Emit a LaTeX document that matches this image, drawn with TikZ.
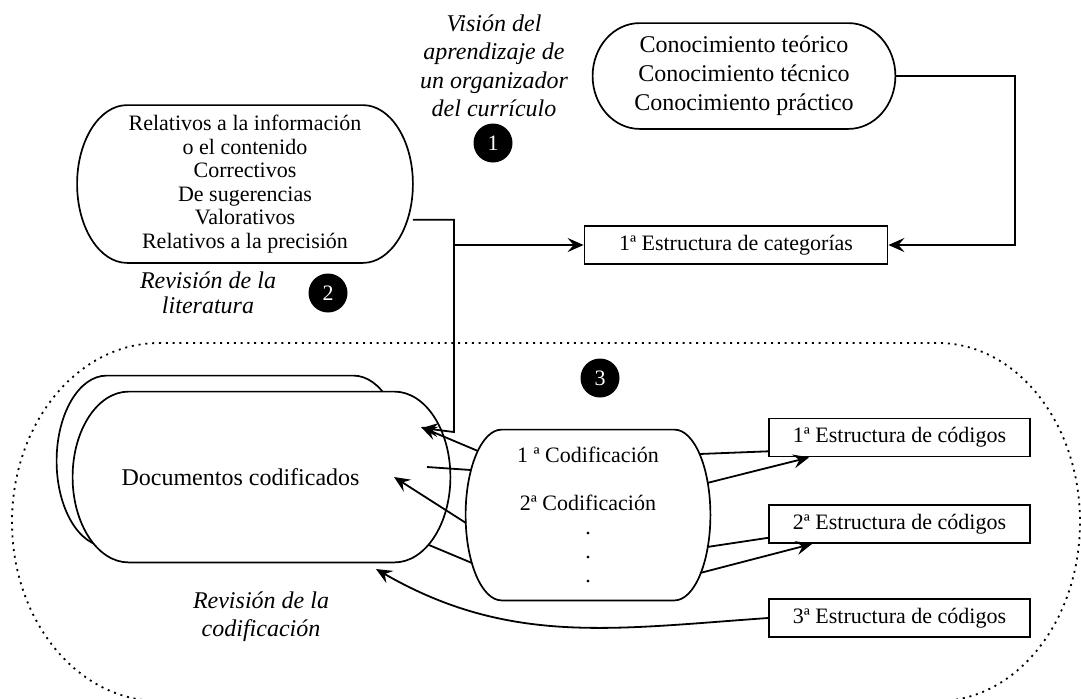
\documentclass[tikz,border=0pt]{standalone}
\usepackage{fontspec}
\setmainfont{Liberation Serif}
\usetikzlibrary{arrows.meta,calc,backgrounds}

\tikzset{
  bubble/.style={inner sep=0pt, align=center},
  box/.style={draw, line width=0.9pt, minimum height=19pt, inner sep=2pt, font=\fontsize{11}{13}\selectfont},
  num/.style={circle, fill=black, text=white, minimum size=19.5pt, inner sep=0pt, font=\fontsize{11}{13}\selectfont},
  lbl/.style={align=center, inner sep=0pt, font=\fontsize{12}{14.25}\selectfont\itshape},
  arr/.style={-{Stealth[length=8pt,width=7pt,inset=3pt]}, line width=0.9pt},
  con/.style={line width=0.9pt},
  dotline/.style={line width=0.9pt, dash pattern=on 1pt off 2.4pt},
}

% outline with elliptic ends round a node
\newcommand\bubbleedge[3][]{%
  \draw[line width=0.85pt,#1] let \p1=(#2.north east), \p2=(#2.south west) in
    (\x2+#3,\y1) -- (\x1-#3,\y1) arc[start angle=90,end angle=-90,x radius=#3,y radius={(\y1-\y2)/2}]
    -- (\x2+#3,\y2) arc[start angle=270,end angle=90,x radius=#3,y radius={(\y1-\y2)/2}] -- cycle;}

\begin{document}
\begin{tikzpicture}[x=0.5pt,y=-0.5pt]
\useasboundingbox (0,0) rectangle (1081,698);

\node[lbl] (vis) at (494,66) {Visión del\\aprendizaje de\\un organizador\\del currículo};
\node[num] (n1) at (493,143) {1};
\node[bubble, minimum width=151pt, minimum height=52.5pt, font=\fontsize{12}{14.5}\selectfont] (know) at (744,76)
  {Conocimiento teórico\\Conocimiento técnico\\Conocimiento práctico};
\node[bubble, minimum width=167.5pt, minimum height=78.5pt, font=\fontsize{11}{11.75}\selectfont] (lit) at (245,184)
  {Relativos a la información\\o el contenido\\Correctivos\\De sugerencias\\Valorativos\\Relativos a la precisión};
\node[box, minimum width=151.5pt] (cat) at (736,245) {1ª Estructura de categorías};
\node[lbl, font=\fontsize{12}{12.5}\selectfont\itshape] (revlit) at (208,293) {Revisión de la\\literatura};
\node[num] (n2) at (328,293) {2};

\draw[dotline] (159,343) -- (938,343) arc[start angle=90,end angle=-90,x radius=71pt,y radius=89.5pt]
  -- (159,701) arc[start angle=270,end angle=90,x radius=73.5pt,y radius=89.5pt] -- cycle;
\node[num] (n3) at (600,378) {3};

\node[bubble, minimum width=173pt, minimum height=85pt] (docsback) at (230,461) {};
\node[bubble, minimum width=188.5pt, minimum height=85pt, font=\fontsize{12}{14}\selectfont] (docs) at (261.5,477)
  {\hspace*{-21pt}Documentos codificados};
\node[bubble, minimum width=122pt, minimum height=85pt, font=\fontsize{11}{12}\selectfont] (code) at (588,515)
  {1 ª Codificación\\[12pt]2ª Codificación\\.\\.\\.};
\node[box, minimum width=130.5pt] (s1) at (899.5,437.5) {1ª Estructura de códigos};
\node[box, minimum width=130.5pt] (s2) at (899.5,524) {2ª Estructura de códigos};
\node[box, minimum width=130.5pt] (s3) at (899.5,618) {3ª Estructura de códigos};
\node[lbl, font=\fontsize{12}{14}\selectfont\itshape] (revcod) at (261,617) {Revisión de la\\codificación};

\bubbleedge{know}{23.5pt}
\bubbleedge{lit}{25pt}
\bubbleedge{code}{18pt}
\begin{scope}[on background layer]
\bubbleedge[fill=white]{docsback}{25pt}
\bubbleedge[fill=white]{docs}{28pt}
\end{scope}

\coordinate (kc) at (1015,245);
\coordinate (drop) at (454,432);
\coordinate (da) at (422,428);
\draw[arr] (know.east) -| (kc) -- (cat.east);
\draw[arr] (lit.-12) -| (drop) -- (da);
\draw[arr] (drop |- cat) -- (cat.west);

\coordinate (c1) at (478,451);
\coordinate (c2) at (471,470);
\coordinate (c3) at (466,523);
\coordinate (c4) at (472,563);
\coordinate (d1) at (421,427);
\coordinate (d2) at (427,467);
\coordinate (d3) at (394,477);
\coordinate (d4) at (429,545);
\coordinate (d5) at (376,569);
\draw[arr] (c1) -- (d1);
\draw[con] (c2) -- (d2);
\draw[arr] (c3) -- (d3);
\draw[con] (c4) -- (d4);

\coordinate (e1) at (699,454);
\coordinate (e2) at (707,483);
\coordinate (e3) at (707,547);
\coordinate (e4) at (700,573);
\draw[con] (e1) -- (s1.186);
\draw[arr] (e2) -- ([xshift=20.5pt]s1.south west);
\draw[con] (e3) -- (s2.186);
\draw[arr] (e4) -- ([xshift=22pt]s2.south west);
\draw[arr] (s3.west) to[out=184,in=-30] (d5);
\end{tikzpicture}
\end{document}
